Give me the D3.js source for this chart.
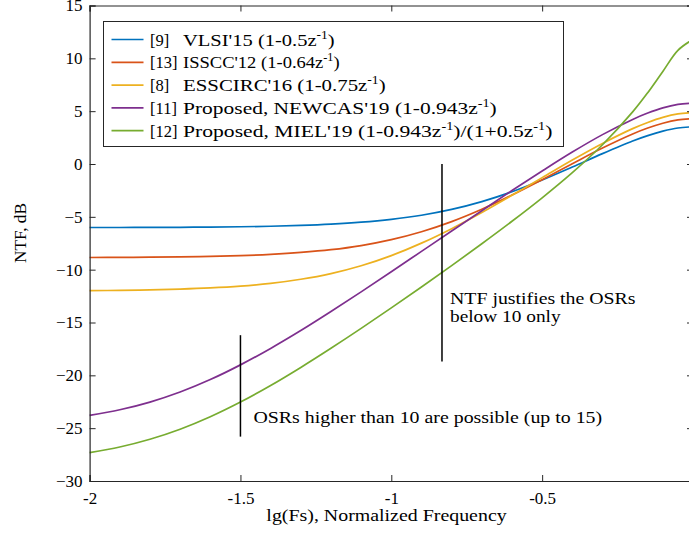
<!DOCTYPE html>
<html>
<head>
<meta charset="utf-8">
<script src="https://cdn.jsdelivr.net/npm/d3@7"></script>
<style>
  body { margin: 0; background: #fff; }
  svg text { font-family: "Liberation Serif", serif; fill: #000; }
</style>
</head>
<body>
<div id="chart"></div>
<script>
  // values, lg(Fs) vs NTF in dB
  var lgFs = [-2, -1.9, -1.8, -1.7, -1.6, -1.5, -1.4, -1.3, -1.2, -1.1, -1.0, -0.9, -0.8, -0.7, -0.6, -0.5, -0.4, -0.3, -0.2, -0.15, -0.1, -0.05, 0];
  var vlsi15 = [-6.01, -6.01, -6.00, -5.99, -5.97, -5.94, -5.89, -5.81, -5.69, -5.51, -5.24, -4.85, -4.30, -3.56, -2.63, -1.52, -0.29, 0.98, 2.18, 2.69, 3.11, 3.41, 3.52];
  var isscc12 = [-8.85, -8.84, -8.82, -8.79, -8.74, -8.67, -8.55, -8.37, -8.11, -7.72, -7.16, -6.41, -5.45, -4.28, -2.94, -1.48, 0.03, 1.51, 2.84, 3.40, 3.86, 4.18, 4.30];
  var esscirc16 = [-11.99, -11.96, -11.91, -11.84, -11.73, -11.56, -11.30, -10.91, -10.37, -9.63, -8.67, -7.49, -6.12, -4.59, -2.96, -1.29, 0.38, 1.95, 3.35, 3.93, 4.41, 4.74, 4.86];
  var newcas19 = [-23.79, -23.26, -22.53, -21.58, -20.40, -19.01, -17.45, -15.76, -13.96, -12.10, -10.20, -8.27, -6.34, -4.42, -2.51, -0.66, 1.13, 2.78, 4.22, 4.82, 5.31, 5.64, 5.77];
  var miel19 = [-27.31, -26.78, -26.05, -25.10, -23.92, -22.53, -20.96, -19.25, -17.44, -15.56, -13.62, -11.64, -9.62, -7.55, -5.42, -3.20, -0.82, 1.82, 4.93, 6.75, 8.76, 10.76, 11.79];

  var seriesRef = ["[9]", "[13]", "[8]", "[11]", "[12]"];
  var seriesName = ["VLSI'15 (1-0.5z", "ISSCC'12 (1-0.64z", "ESSCIRC'16 (1-0.75z", "Proposed, NEWCAS'19 (1-0.943z", "Proposed, MIEL'19 (1-0.943z"];
  var seriesTail = [")", ")", ")", ")", ")/(1+0.5z"];
  var seriesTail2 = ["", "", "", "", ")"];
  var seriesColor = ["#0072BD", "#D95319", "#EDB120", "#7E2F8E", "#77AC30"];
  var seriesValues = [vlsi15, isscc12, esscirc16, newcas19, miel19];
  // widths of the legend entries in the figure (px), after the bracket
  var legendWidths = [152, 157, 203, 314, 370];

  var xTicks = [-2, -1.5, -1, -0.5, 0];
  var xTickLabels = ["-2", "-1.5", "-1", "-0.5", "0"];
  var yTicks = [15, 10, 5, 0, -5, -10, -15, -20, -25, -30];

  // vertical marker lines: [x, yTop, yBottom]
  var markerHigh = [-0.832, 0, -18.7];
  var markerLow = [-1.5, -16.2, -25.8];

  var width = 689, height = 536;
  var margin = { top: 5.5, right: -4, bottom: 55, left: 89.6 };

  var svg = d3.select('#chart').append('svg')
    .attr('width', width)
    .attr('height', height);

  var x = d3.scaleLinear().domain([-2, 0]).range([margin.left, width - margin.right]);
  var y = d3.scaleLinear().domain([-30, 15]).range([height - margin.bottom, margin.top]);

  var axisColor = '#262626';

  // squeeze/stretch a text (inside its own <g>) to the width it has in the figure
  function fitWidth(textSel, target) {
    var w = textSel.node().getBBox().width;
    var g = d3.select(textSel.node().parentNode);
    g.attr('transform', (g.attr('transform') || '') + ` scale(${target / w},1)`);
  }

  function label(px, py, str, size, target, anchor) {
    var g = svg.append('g').attr('transform', `translate(${px},${py})`);
    var t = g.append('text')
      .attr('text-anchor', anchor || 'start')
      .style('font-size', size + 'px')
      .text(str);
    if (target) fitWidth(t, target);
    return g;
  }

  // curves
  var line = d3.line()
    .x((d, i) => x(lgFs[i]))
    .y(d => y(d))
    .curve(d3.curveCatmullRom.alpha(0.5));

  seriesValues.forEach((vals, k) => {
    svg.append('path')
      .attr('d', line(vals))
      .attr('fill', 'none')
      .attr('stroke', seriesColor[k])
      .attr('stroke-width', 1.7);
  });

  // axes, ticks inward on all four sides
  function styleAxis(g) {
    g.select('.domain').attr('stroke', axisColor).attr('stroke-width', 1.2);
    g.selectAll('.tick line').attr('stroke', axisColor).attr('stroke-width', 1);
    g.selectAll('.tick text').style('font-family', '"Liberation Serif", serif').style('font-size', '17px').attr('fill', '#000');
  }

  svg.append('g')
    .attr('transform', `translate(0,${y(-30)})`)
    .call(d3.axisBottom(x).tickValues(xTicks).tickFormat((d, i) => xTickLabels[i]).tickSize(-6).tickPadding(11))
    .call(styleAxis);

  svg.append('g')
    .attr('transform', `translate(0,${y(15)})`)
    .call(d3.axisTop(x).tickValues(xTicks).tickFormat('').tickSize(-6))
    .call(styleAxis);

  svg.append('g')
    .attr('transform', `translate(${x(-2)},0)`)
    .call(d3.axisLeft(y).tickValues(yTicks).tickFormat(d3.format('d')).tickSize(-6).tickPadding(7))
    .call(styleAxis);

  svg.append('g')
    .attr('transform', `translate(${x(0)},0)`)
    .call(d3.axisRight(y).tickValues(yTicks).tickFormat('').tickSize(-6))
    .call(styleAxis);

  // axis titles
  label(386.5, 521, 'lg(Fs), Normalized Frequency', 17, 241, 'middle');

  var yl = svg.append('g').attr('transform', 'translate(26,233) rotate(-90)');
  var ylt = yl.append('text').attr('text-anchor', 'middle').style('font-size', '17px').text('NTF, dB');
  fitWidth(ylt, 60);

  // marker lines and notes
  [markerHigh, markerLow].forEach(m => {
    svg.append('line')
      .attr('x1', x(m[0])).attr('x2', x(m[0]))
      .attr('y1', y(m[1])).attr('y2', y(m[2]))
      .attr('stroke', '#000')
      .attr('stroke-width', 1.5);
  });

  label(x(markerHigh[0]) + 8, 304, 'NTF justifies the OSRs', 17.5, 186);
  label(x(markerHigh[0]) + 8, 322, 'below 10 only', 17.5, 111);
  label(x(markerLow[0]) + 13, 423, 'OSRs higher than 10 are possible (up to 15)', 17.5, 349);

  // legend
  var legend = svg.append('g');
  legend.append('rect')
    .attr('x', 103.5).attr('y', 21.5)
    .attr('width', 460).attr('height', 125)
    .attr('fill', '#fff')
    .attr('stroke', axisColor)
    .attr('stroke-width', 1);

  seriesRef.forEach((ref, k) => {
    var cy = 39.5 + k * 22.8;
    legend.append('line')
      .attr('x1', 111.5).attr('x2', 143.5)
      .attr('y1', cy).attr('y2', cy)
      .attr('stroke', seriesColor[k])
      .attr('stroke-width', 1.7);
    var rg = legend.append('g').attr('transform', `translate(150,${cy + 6})`);
    rg.append('text').style('font-size', '16.5px').text(ref);

    var g = legend.append('g').attr('transform', `translate(183,${cy + 6})`);
    var t = g.append('text').style('font-size', '17.5px');
    t.append('tspan').text(seriesName[k]);
    t.append('tspan').attr('dy', -7).style('font-size', '11.5px').text('-1');
    t.append('tspan').attr('dy', 7).text(seriesTail[k]);
    if (seriesTail2[k]) {
      t.append('tspan').attr('dy', -7).style('font-size', '11.5px').text('-1');
      t.append('tspan').attr('dy', 7).text(seriesTail2[k]);
    }
    fitWidth(t, legendWidths[k]);
  });
</script>
</body>
</html>
